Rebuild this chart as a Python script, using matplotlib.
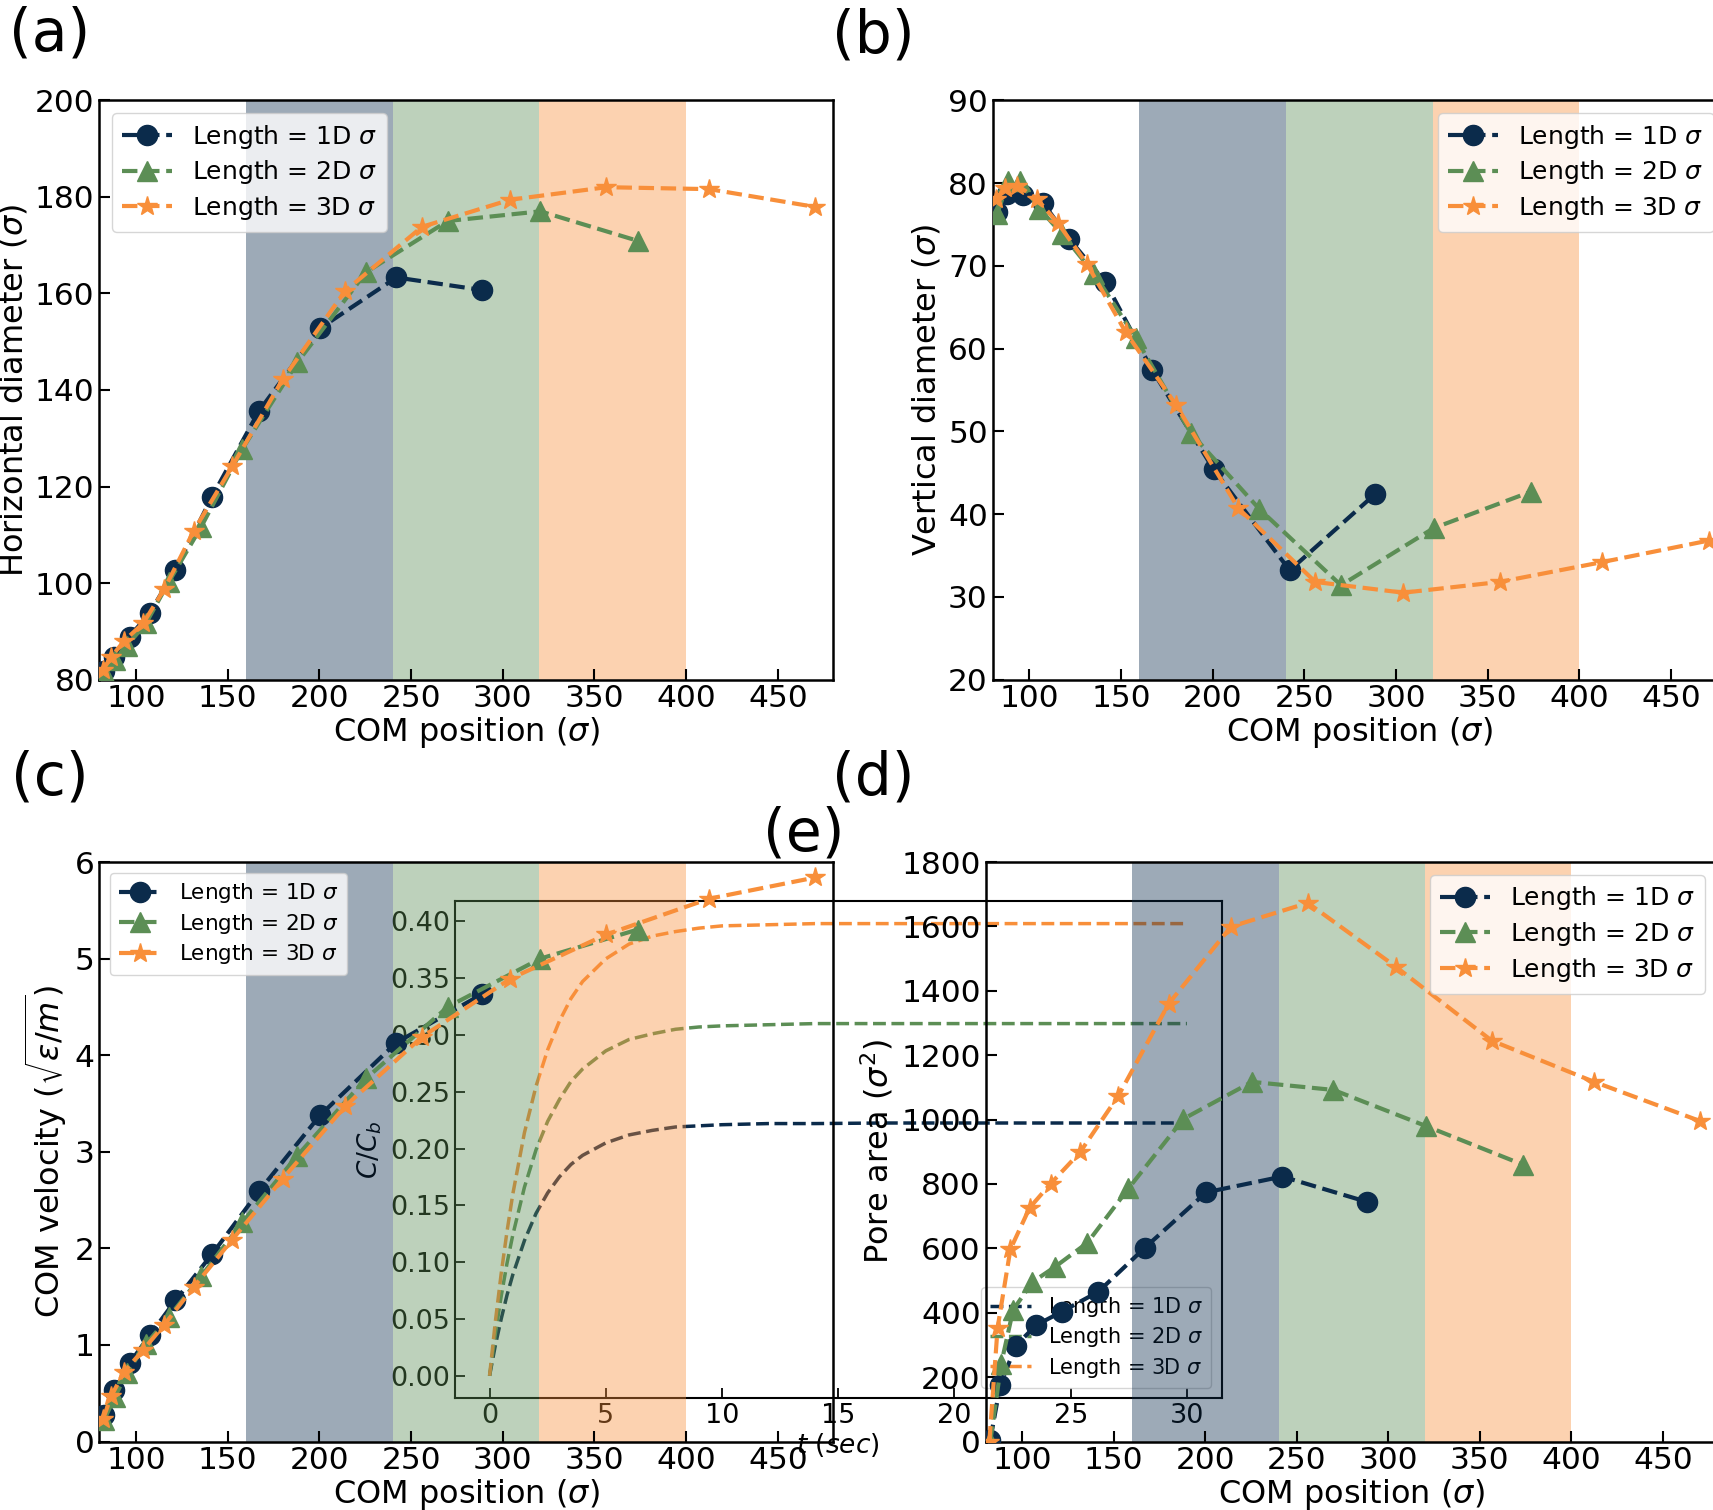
import matplotlib
matplotlib.use('Agg')
import matplotlib.pyplot as plt

W, H = 1713, 1510

# ---------------- data ----------------
pos_1d = [82.5, 88, 96.5, 107.5, 121.5, 141.5, 167, 200.5, 242, 288.5]
pos_2d = [82.5, 88.5, 95, 105.5, 118, 135.5, 158, 188, 225.5, 270, 320.5, 373.5]
pos_3d = [82, 86.5, 93.5, 104, 115.5, 131.5, 152.5, 180, 214, 256, 304, 356.5, 412.5, 470.5]

hdiam_1d = [81.7, 84.7, 88.9, 93.8, 102.8, 117.9, 135.6, 152.8, 163.3, 160.7]
hdiam_2d = [81.5, 84.0, 87.0, 91.7, 100.3, 111.6, 127.8, 145.7, 164.4, 175.0, 177.0, 170.9]
hdiam_3d = [82.0, 84.7, 88.0, 91.7, 98.8, 110.8, 124.2, 142.2, 160.5, 173.8, 179.4, 182.0, 181.6, 177.9]

vdiam_1d = [76.5, 78.7, 78.6, 77.6, 73.3, 68.0, 57.4, 45.4, 33.2, 42.4]
vdiam_2d = [76.3, 80.2, 80.2, 76.9, 73.8, 69.0, 61.3, 49.8, 40.6, 31.4, 38.3, 42.7]
vdiam_3d = [78.1, 79.4, 79.7, 78.1, 75.2, 70.2, 62.0, 53.2, 40.7, 31.8, 30.5, 31.8, 34.2, 36.8]

vel_1d = [0.27, 0.53, 0.81, 1.10, 1.46, 1.94, 2.59, 3.38, 4.13, 4.63]
vel_2d = [0.22, 0.46, 0.71, 1.01, 1.29, 1.71, 2.27, 2.96, 3.76, 4.50, 5.00, 5.30]
vel_3d = [0.23, 0.47, 0.72, 0.95, 1.21, 1.60, 2.09, 2.72, 3.47, 4.19, 4.79, 5.25, 5.62, 5.84]

area_1d = [5, 177, 298, 361, 403, 465, 602, 774, 823, 744]
area_2d = [0, 242, 409, 495, 543, 617, 786, 1002, 1117, 1092, 980, 860]
area_3d = [0, 353, 597, 726, 801, 898, 1074, 1360, 1599, 1673, 1475, 1245, 1117, 995]

t_sec = [0, 0.25, 0.5, 0.75, 1, 1.5, 2, 2.5, 3, 3.5, 4, 5, 6, 7, 8, 9, 10, 12, 14, 17, 20, 25, 30]
conc_1d = [0, 0.027, 0.050, 0.071, 0.089, 0.119, 0.143, 0.161, 0.175, 0.186, 0.194, 0.205,
           0.212, 0.216, 0.219, 0.220, 0.221, 0.222, 0.222, 0.2225, 0.2225, 0.2225, 0.2225]
conc_2d = [0, 0.037, 0.070, 0.099, 0.124, 0.166, 0.199, 0.224, 0.243, 0.259, 0.270, 0.286,
           0.296, 0.301, 0.305, 0.307, 0.308, 0.309, 0.310, 0.310, 0.310, 0.310, 0.310]
conc_3d = [0, 0.048, 0.090, 0.127, 0.160, 0.214, 0.255, 0.287, 0.312, 0.332, 0.347, 0.367,
           0.380, 0.387, 0.391, 0.394, 0.396, 0.397, 0.398, 0.398, 0.398, 0.398, 0.398]

labels = [r'Length = 1D $\sigma$', r'Length = 2D $\sigma$', r'Length = 3D $\sigma$']
spans = [(160, 240), (240, 320), (320, 400)]

# ---------------- style ----------------
NAVY = '#0b2b4b'
GREEN = '#5c8e55'
ORANGE = '#f88f3a'
colors = [NAVY, GREEN, ORANGE]
markers = ['o', '^', '*']

fig = plt.figure(figsize=(W / 100, H / 100), dpi=100)


def box(x0, y0, x1, y1):
    return [x0 / W, 1 - y1 / H, (x1 - x0) / W, (y1 - y0) / H]


def style_axes(ax, lab=22.5):
    for s in ax.spines.values():
        s.set_linewidth(1.8)
    ax.tick_params(direction='in', length=8, width=1.5, labelsize=lab)


def main_panel(ax, xs, ys, ylim, yticks, ylabel, loc, legsize=18):
    for (a, b), c in zip(spans, colors):
        ax.axvspan(a, b, color=c, alpha=0.4, lw=0, zorder=1)
    for x, y, c, m, l in zip(xs, ys, colors, markers, labels):
        ax.plot(x, y, ls='--', lw=3, color=c, marker=m, ms=14.5, label=l, zorder=3)
    ax.set_xlim(80, 480)
    ax.set_xticks([100, 150, 200, 250, 300, 350, 400, 450])
    ax.set_ylim(*ylim)
    ax.set_yticks(yticks)
    ax.set_xlabel(r'COM position ($\sigma$)', fontsize=23, labelpad=1)
    ax.set_ylabel(ylabel, fontsize=23)
    style_axes(ax)
    ax.legend(loc=loc, fontsize=legsize, labelspacing=0.3)


xs = [pos_1d, pos_2d, pos_3d]

# inset (e) first, underneath (c) and (d)
axe = fig.add_axes(box(454.7, 901, 1221.8, 1398.4))
axe.set_zorder(0)
for t, c, col, l in zip([t_sec] * 3, [conc_1d, conc_2d, conc_3d], colors, labels):
    axe.plot(t, c, ls='--', lw=2.5, color=col, label=l)
axe.set_xticks([0, 5, 10, 15, 20, 25, 30])
axe.set_yticks([0.0, 0.05, 0.10, 0.15, 0.20, 0.25, 0.30, 0.35, 0.40])
axe.set_yticklabels(['0.00', '0.05', '0.10', '0.15', '0.20', '0.25', '0.30', '0.35', '0.40'])
axe.set_xlabel(r'$t\ (sec)$', fontsize=19, labelpad=1)
axe.set_ylabel(r'$C/C_b$', fontsize=19)
for s in axe.spines.values():
    s.set_linewidth(1.5)
axe.tick_params(direction='in', length=7, width=1.3, labelsize=19.5)
axe.legend(loc='lower right', fontsize=15, labelspacing=0.3)

# (a)
axa = fig.add_axes(box(99.3, 100.3, 832.9, 679.6))
main_panel(axa, xs, [hdiam_1d, hdiam_2d, hdiam_3d], (80, 200),
           [80, 100, 120, 140, 160, 180, 200], r'Horizontal diameter ($\sigma$)', 'upper left')

# (b)
axb = fig.add_axes(box(992.7, 100.3, 1726, 679.6))
main_panel(axb, xs, [vdiam_1d, vdiam_2d, vdiam_3d], (20, 90),
           [20, 30, 40, 50, 60, 70, 80, 90], r'Vertical diameter ($\sigma$)', 'upper right')

# (c)
axc = fig.add_axes(box(99.3, 862, 832.9, 1441.5))
axc.set_zorder(1)
axc.patch.set_alpha(0)
main_panel(axc, xs, [vel_1d, vel_2d, vel_3d], (0, 6),
           [0, 1, 2, 3, 4, 5, 6], r'COM velocity ($\sqrt{\varepsilon/m}$)', 'upper left', legsize=15.5)

# (d)
axd = fig.add_axes(box(985.7, 862, 1717.8, 1441.5))
axd.set_zorder(1)
axd.patch.set_alpha(0)
main_panel(axd, xs, [area_1d, area_2d, area_3d], (0, 1800),
           [0, 200, 400, 600, 800, 1000, 1200, 1400, 1600, 1800], r'Pore area ($\sigma^2$)', 'upper right')

# panel labels
for txt, x, y in [('(a)', 9, 50), ('(b)', 832, 52), ('(c)', 11, 795), ('(d)', 832, 795), ('(e)', 763, 850)]:
    fig.text(x / W, 1 - y / H, txt, fontsize=42, ha='left', va='baseline')

fig.savefig('out.png', dpi=100)
